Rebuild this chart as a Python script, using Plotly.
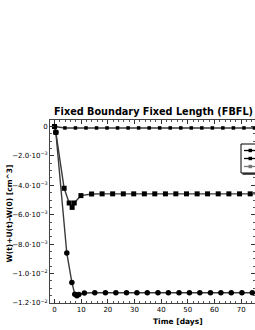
import plotly.graph_objects as go

# ---- data ----
t_top = [0, 3.9, 7.85, 11.8, 15.75, 19.7, 23.65, 27.6, 31.55, 35.5, 39.45, 43.4,
         47.35, 51.3, 55.25, 59.2, 63.15, 67.1, 71.05, 75.0, 79.0]
v_top = [0, -0.0001, -0.0001, -0.0001, -0.0001, -0.0001, -0.0001, -0.0001, -0.0001,
         -0.0001, -0.0001, -0.0001, -0.0001, -0.0001, -0.0001, -0.0001, -0.0001,
         -0.0001, -0.0001, -0.0001, -0.0001]

t_sq = [0, 0.5, 3.6, 5.5, 6.6, 7.4, 9.9, 13.9, 17.85, 21.8, 25.8, 29.7, 33.7, 37.6,
        41.6, 45.5, 49.5, 53.5, 57.4, 61.4, 65.4, 69.4, 73.4, 77.4]
v_sq = [0, -0.0004, -0.0042, -0.0052, -0.0055, -0.0052, -0.0047, -0.00459, -0.00458,
        -0.00458, -0.00458, -0.00458, -0.00458, -0.00458, -0.00458, -0.00458, -0.00458,
        -0.00458, -0.00458, -0.00458, -0.00458, -0.00458, -0.00458, -0.00458]

t_ci = [0, 0.5, 4.6, 6.5, 7.6, 8.4, 9.1, 11.2, 15.1, 19.1, 23.0, 27.0, 30.9, 34.8,
        38.8, 42.7, 46.7, 50.6, 54.5, 58.5, 62.4, 66.3, 70.3, 74.2, 78.2]
v_ci = [0, -0.0004, -0.0086, -0.0106, -0.0114, -0.0115, -0.01142, -0.01132, -0.0113,
        -0.0113, -0.0113, -0.0113, -0.0113, -0.0113, -0.0113, -0.0113, -0.0113,
        -0.0113, -0.0113, -0.0113, -0.0113, -0.0113, -0.0113, -0.0113, -0.0113]

y_tickvals = [0, -0.002, -0.004, -0.006, -0.008, -0.010, -0.012]
y_ticktext = ["0", "−2.0·10<sup>−3</sup>", "−4.0·10<sup>−3</sup>", "−6.0·10<sup>−3</sup>",
              "−8.0·10<sup>−3</sup>", "−1.0·10<sup>−2</sup>", "−1.2·10<sup>−2</sup>"]
x_tickvals = [0, 10, 20, 30, 40, 50, 60, 70]

LINE = "#3a3a3a"
FONT = "DejaVu Sans"

fig = go.Figure()
fig.add_trace(go.Scatter(x=t_top, y=v_top, mode="lines+markers",
                         line=dict(color=LINE, width=1.4),
                         marker=dict(symbol="square", size=3.5, color="black")))
fig.add_trace(go.Scatter(x=t_sq, y=v_sq, mode="lines+markers",
                         line=dict(color=LINE, width=1.4),
                         marker=dict(symbol="square", size=5, color="black")))
fig.add_trace(go.Scatter(x=t_ci, y=v_ci, mode="lines+markers",
                         line=dict(color=LINE, width=1.4),
                         marker=dict(symbol="circle", size=5.5, color="black")))

# plot area in screenshot pixels: x 50..255, y 120..303
L, R, T, B = 50, 255, 120, 303
def px(x):
    return (x - L) / (R - L)
def py(y):
    return (B - y) / (B - T)

shapes = []
shapes.append(dict(type="rect", xref="paper", yref="paper",
                   x0=px(242.5), x1=px(262), y0=py(175), y1=py(146),
                   fillcolor="#555", line=dict(width=0), layer="above"))
shapes.append(dict(type="rect", xref="paper", yref="paper",
                   x0=px(241), x1=px(260), y0=py(173), y1=py(144),
                   fillcolor="white", line=dict(color="black", width=1), layer="above"))
leg_y = [150.5, 158.5, 166.5]
leg_col = ["black", "black", "#777"]
for yy, cc in zip(leg_y, leg_col):
    shapes.append(dict(type="line", xref="paper", yref="paper",
                       x0=px(244), x1=px(256), y0=py(yy), y1=py(yy),
                       line=dict(color=cc, width=1.3), layer="above"))
    shapes.append(dict(type="rect", xref="paper", yref="paper",
                       x0=px(248.5), x1=px(252), y0=py(yy + 1.7), y1=py(yy - 1.7),
                       fillcolor=cc, line=dict(width=0), layer="above"))

annotations = [
    dict(text="<b>Fixed Boundary Fixed Length (FBFL)</b>", xref="paper", yref="paper",
         x=px(52), y=py(112), xanchor="left", yanchor="middle", showarrow=False,
         font=dict(family=FONT, size=9.7, color="black")),
    dict(text="<b>Time [days]</b>", xref="paper", yref="paper",
         x=px(178), y=py(321), xanchor="center", yanchor="middle", showarrow=False,
         font=dict(family=FONT, size=7.5, color="black")),
    dict(text="<b>W(t)+U(t)-W(0) [cm^3]</b>", xref="paper", yref="paper",
         x=px(8.5), y=py(214), xanchor="center", yanchor="middle", showarrow=False,
         textangle=-90, font=dict(family=FONT, size=7.5, color="black")),
]

fig.update_layout(
    width=255, height=330,
    margin=dict(l=L, r=255 - R, t=T, b=330 - B, pad=0),
    paper_bgcolor="white", plot_bgcolor="white",
    showlegend=False,
    font=dict(family=FONT, size=7, color="black"),
    shapes=shapes, annotations=annotations,
)
fig.update_xaxes(range=[-1.7, 75.2], tickvals=x_tickvals, ticks="inside", ticklen=4,
                 tickcolor="#333", showline=True, linecolor="#444", linewidth=1,
                 mirror="ticks", showgrid=False, zeroline=False,
                 tickfont=dict(family=FONT, size=7),
                 minor=dict(dtick=2, ticks="inside", ticklen=2, tickcolor="#555"))
fig.update_yaxes(range=[-0.012, 0.00044], tickvals=y_tickvals, ticktext=y_ticktext,
                 ticks="inside", ticklen=4, tickcolor="#333", showline=True,
                 linecolor="#444", linewidth=1, mirror="ticks", showgrid=False,
                 zeroline=False, tickfont=dict(family=FONT, size=7),
                 minor=dict(tickvals=[-0.0005 * i for i in range(1, 24) if i % 4],
                            ticks="inside", ticklen=2, tickcolor="#555"))

fig.write_html("out.html", config={"displayModeBar": False},
               post_script="document.body.style.margin='0px';"
                           "document.body.style.overflow='hidden';")
